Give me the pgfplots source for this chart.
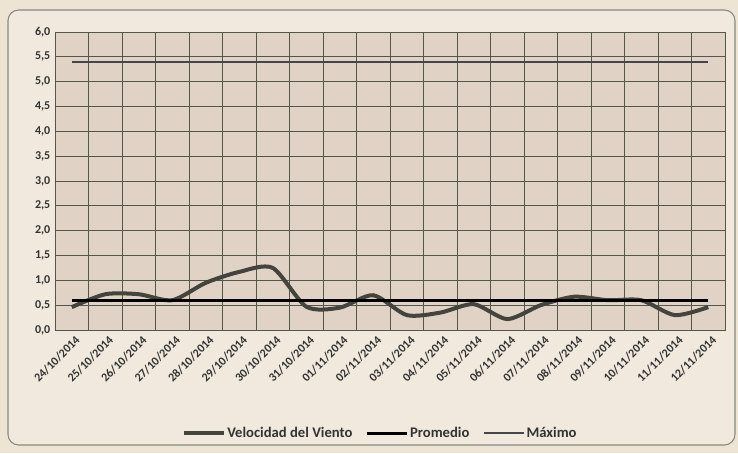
\documentclass[border=0pt]{standalone}
\usepackage{pgfplots}
\pgfplotsset{compat=1.18}
\usepackage{fontspec}
\setmainfont{Carlito}

\definecolor{outerbg}{RGB}{238,228,212}
\definecolor{plotbg}{RGB}{224,211,198}
\definecolor{gridc}{RGB}{85,85,75}
\definecolor{velc}{RGB}{68,68,60}
\definecolor{maxc}{RGB}{70,70,70}

\begin{document}
\begin{tikzpicture}
% page area and rounded frame (1px = 0.75pt, plot lower left at origin)
\useasboundingbox (-41.25pt,-92.25pt) rectangle (512.25pt,247.5pt);
\fill[outerbg] (-41.25pt,-92.25pt) rectangle (512.25pt,247.5pt);
\draw[gridc!70, line width=0.8pt, fill=outerbg!80!white, rounded corners=8pt]
  (-35.25pt,-86.25pt) rectangle (510pt,240pt);
\begin{axis}[
    scale only axis,
    width=502.5pt, height=223.5pt,
    at={(0,0)}, anchor=south west,
    axis background/.style={fill=plotbg},
    xmin=-0.5, xmax=19.5,
    ymin=0, ymax=6,
    xtick={0,...,19},
    xticklabels={24/10/2014,25/10/2014,26/10/2014,27/10/2014,28/10/2014,29/10/2014,30/10/2014,31/10/2014,01/11/2014,02/11/2014,03/11/2014,04/11/2014,05/11/2014,06/11/2014,07/11/2014,08/11/2014,09/11/2014,10/11/2014,11/11/2014,12/11/2014},
    minor xtick={-0.5,0.5,...,19.5},
    ytick={0,0.5,...,6},
    xminorgrids=true, ymajorgrids=true,
    grid style={gridc, line width=0.6pt},
    minor grid style={gridc, line width=0.6pt},
    axis line style={gridc, line width=0.7pt},
    major tick length=0pt, minor tick length=0pt,
    x tick label style={rotate=45, anchor=north east, font=\bfseries\small, text=black!80, yshift=-3pt, inner sep=1pt},
    y tick label style={font=\bfseries\small, text=black!80},
    yticklabel style={/pgf/number format/.cd, fixed, fixed zerofill, precision=1, use comma},
    /pgf/number format/assume math mode=true,
    legend columns=3,
    legend style={at={(0.485,-0.346)}, anchor=center, draw=none, fill=none,
      font=\bfseries\fontsize{11}{13}\selectfont, text=black!80,
      nodes={inner xsep=1pt},
      /tikz/every even column/.append style={column sep=9pt}},
    legend image code/.code={\draw[#1] (0pt,0pt) -- (30pt,0pt);},
]
\addplot[velc, line width=3pt, smooth, tension=0.45] coordinates {
(0,0.46) (1,0.72) (2,0.72) (3,0.60) (4,0.95) (5,1.17) (6,1.25) (7,0.47)
(8,0.45) (9,0.70) (10,0.30) (11,0.35) (12,0.52) (13,0.22) (14,0.50)
(15,0.67) (16,0.60) (17,0.60) (18,0.30) (19,0.46)};
\addplot[black, line width=2.2pt] coordinates {(0,0.6) (19,0.6)};
\addplot[maxc, line width=1.8pt] coordinates {(0,5.39) (19,5.39)};
\legend{Velocidad del Viento, Promedio, Máximo}
\end{axis}
\end{tikzpicture}
\end{document}
